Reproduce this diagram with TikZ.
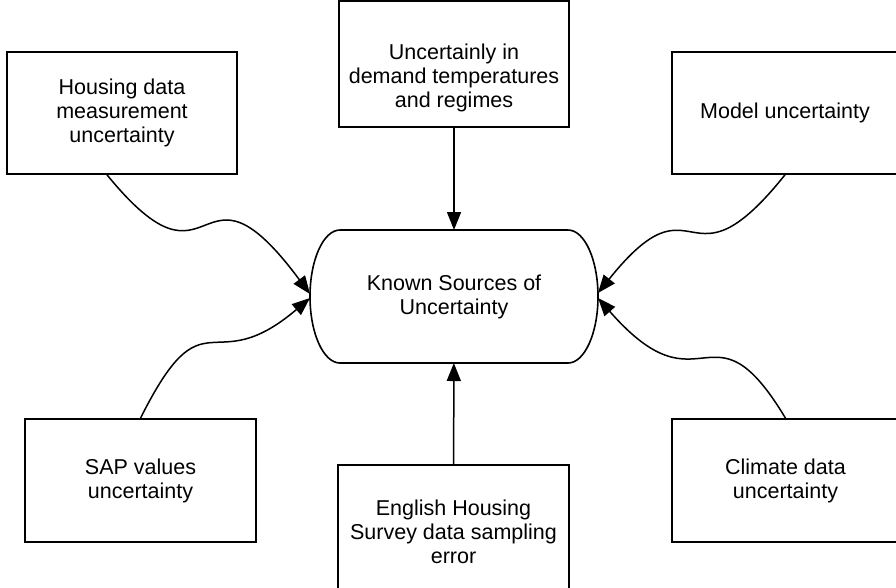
\documentclass[tikz,border=0pt]{standalone}
\usepackage{fontspec}
\setmainfont{Liberation Sans}
\usetikzlibrary{arrows.meta}

\begin{document}
\begin{tikzpicture}[x=1pt,y=-1pt,
  txt/.style={align=center,font=\fontsize{21.5}{24}\selectfont},
  box/.style={draw,line width=1.6pt,inner sep=0pt,txt},
  arr/.style={line width=1.5pt,-{Triangle[length=18pt,width=14pt]}}]

\useasboundingbox (0,0) rectangle (896,587);

\node[box,minimum width=230pt,minimum height=122pt] (hdm) at (122,113) {Housing data\\measurement\\uncertainty};
\node[box,minimum width=230pt,minimum height=126pt] (udt) at (454,64) {};
\node[txt] (udttext) at (454,78) {Uncertainly in\\demand temperatures\\and regimes};
\node[box,minimum width=226pt,minimum height=122pt] (mu) at (785,113) {Model uncertainty};
\node[box,minimum width=231pt,minimum height=123pt] (sap) at (140.5,480.5) {SAP values\\uncertainty};
\node[box,minimum width=231pt,minimum height=134pt] (ehs) at (453.5,532) {English Housing\\Survey data sampling\\error};
\node[box,minimum width=227pt,minimum height=123pt] (cdu) at (785.5,480.5) {Climate data\\uncertainty};

\node[txt,minimum width=288pt,minimum height=133pt,outer sep=0pt] (ksu) at (454,296.5) {Known Sources of\\Uncertainty};
\draw[line width=1.6pt] ([xshift=30pt]ksu.north west) -- ([xshift=-30pt]ksu.north east)
  arc[start angle=90,end angle=-90,x radius=30pt,y radius=66.5pt]
  -- ([xshift=30pt]ksu.south west)
  arc[start angle=270,end angle=90,x radius=30pt,y radius=66.5pt] -- cycle;

\path[arr] (udt) edge (ksu) (ehs) edge (ksu);

\draw[arr] ([xshift=-15pt]hdm.south) .. controls +(110,135) and +(-115,-155) .. ([yshift=2.5pt]ksu.west);
\draw[arr] (sap.north) .. controls +(65,-130) and +(-100,85) .. ([yshift=-1.5pt]ksu.west);
\draw[arr] (mu.south) .. controls +(-100,125) and +(100,-125) .. ([yshift=3.5pt]ksu.east);
\draw[arr] (cdu.north) .. controls +(-75,-125) and +(105,120) .. ([yshift=-1.5pt]ksu.east);

\end{tikzpicture}
\end{document}
